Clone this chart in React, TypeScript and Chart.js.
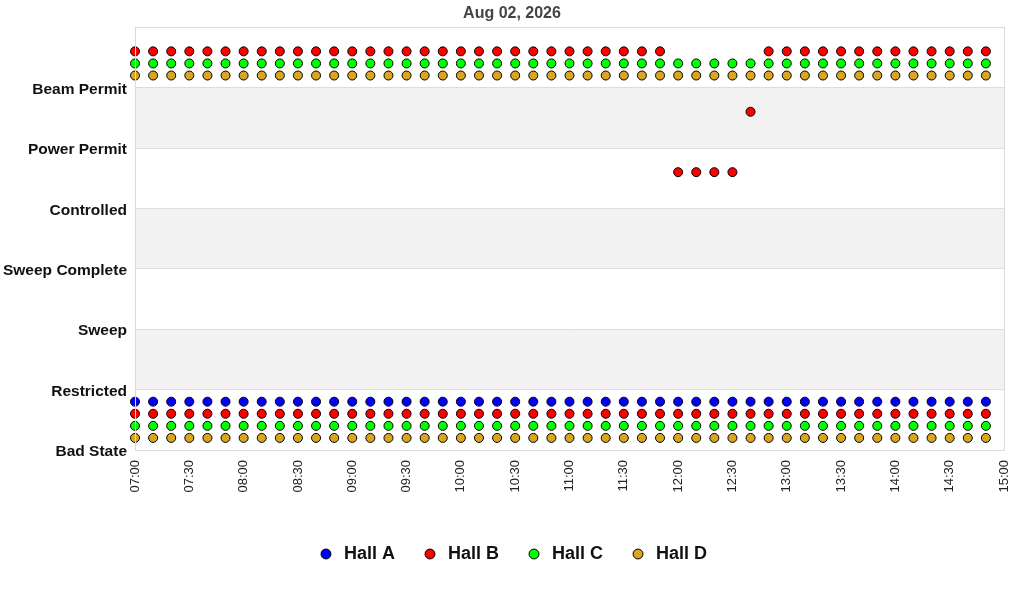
import React, { useEffect, useRef } from "react";
import { Chart, registerables } from "chart.js";

Chart.register(...registerables);

const chartTitle = "Aug 02, 2026";

const stateLabels = [
  "Bad State",
  "Restricted",
  "Sweep",
  "Sweep Complete",
  "Controlled",
  "Power Permit",
  "Beam Permit",
];

const xTickMin = "07:00";
const xTickMax = "15:00";
const xTickStepMinutes = 30;

const times = [
  "07:00", "07:10", "07:20", "07:30", "07:40", "07:50",
  "08:00", "08:10", "08:20", "08:30", "08:40", "08:50",
  "09:00", "09:10", "09:20", "09:30", "09:40", "09:50",
  "10:00", "10:10", "10:20", "10:30", "10:40", "10:50",
  "11:00", "11:10", "11:20", "11:30", "11:40", "11:50",
  "12:00", "12:10", "12:20", "12:30", "12:40", "12:50",
  "13:00", "13:10", "13:20", "13:30", "13:40", "13:50",
  "14:00", "14:10", "14:20", "14:30", "14:40", "14:50",
];

const hallNames = ["Hall A", "Hall B", "Hall C", "Hall D"];

// state code per time (index into stateLabels), null = no state point
const hallAState: (number | null)[] = [
  null, null, null, null, null, null,
  null, null, null, null, null, null,
  null, null, null, null, null, null,
  null, null, null, null, null, null,
  null, null, null, null, null, null,
  null, null, null, null, null, null,
  null, null, null, null, null, null,
  null, null, null, null, null, null,
];
const hallBState: (number | null)[] = [
  6, 6, 6, 6, 6, 6,
  6, 6, 6, 6, 6, 6,
  6, 6, 6, 6, 6, 6,
  6, 6, 6, 6, 6, 6,
  6, 6, 6, 6, 6, 6,
  4, 4, 4, 4, 5, 6,
  6, 6, 6, 6, 6, 6,
  6, 6, 6, 6, 6, 6,
];
const hallCState: (number | null)[] = [
  6, 6, 6, 6, 6, 6,
  6, 6, 6, 6, 6, 6,
  6, 6, 6, 6, 6, 6,
  6, 6, 6, 6, 6, 6,
  6, 6, 6, 6, 6, 6,
  6, 6, 6, 6, 6, 6,
  6, 6, 6, 6, 6, 6,
  6, 6, 6, 6, 6, 6,
];
const hallDState: (number | null)[] = [
  6, 6, 6, 6, 6, 6,
  6, 6, 6, 6, 6, 6,
  6, 6, 6, 6, 6, 6,
  6, 6, 6, 6, 6, 6,
  6, 6, 6, 6, 6, 6,
  6, 6, 6, 6, 6, 6,
  6, 6, 6, 6, 6, 6,
  6, 6, 6, 6, 6, 6,
];

// Bad State flag per time (1 = flagged)
const hallABadState = [
  1, 1, 1, 1, 1, 1, 1, 1, 1, 1, 1, 1, 1, 1, 1, 1, 1, 1, 1, 1, 1, 1, 1, 1,
  1, 1, 1, 1, 1, 1, 1, 1, 1, 1, 1, 1, 1, 1, 1, 1, 1, 1, 1, 1, 1, 1, 1, 1,
];
const hallBBadState = [
  1, 1, 1, 1, 1, 1, 1, 1, 1, 1, 1, 1, 1, 1, 1, 1, 1, 1, 1, 1, 1, 1, 1, 1,
  1, 1, 1, 1, 1, 1, 1, 1, 1, 1, 1, 1, 1, 1, 1, 1, 1, 1, 1, 1, 1, 1, 1, 1,
];
const hallCBadState = [
  1, 1, 1, 1, 1, 1, 1, 1, 1, 1, 1, 1, 1, 1, 1, 1, 1, 1, 1, 1, 1, 1, 1, 1,
  1, 1, 1, 1, 1, 1, 1, 1, 1, 1, 1, 1, 1, 1, 1, 1, 1, 1, 1, 1, 1, 1, 1, 1,
];
const hallDBadState = [
  1, 1, 1, 1, 1, 1, 1, 1, 1, 1, 1, 1, 1, 1, 1, 1, 1, 1, 1, 1, 1, 1, 1, 1,
  1, 1, 1, 1, 1, 1, 1, 1, 1, 1, 1, 1, 1, 1, 1, 1, 1, 1, 1, 1, 1, 1, 1, 1,
];

// styling (not data)
const hallColors = ["#0000FF", "#FF0000", "#00FF00", "#DAA520"];
const hallRowOffsets = [0.8, 0.6, 0.4, 0.2];
const FONT = "'Liberation Sans', Arial, Helvetica, sans-serif";

const toMinutes = (t: string) => {
  const [h, m] = t.split(":").map(Number);
  return h * 60 + m;
};
const fmtTime = (v: number) => {
  const h = Math.floor(v / 60);
  const m = Math.round(v % 60);
  return String(h).padStart(2, "0") + ":" + String(m).padStart(2, "0");
};

const bandsPlugin = {
  id: "bands",
  beforeDraw(chart: any) {
    const { ctx, chartArea, scales } = chart;
    const y = scales.y;
    ctx.save();
    ctx.fillStyle = "#F2F2F2";
    [1, 3, 5].forEach((v) => {
      const top = y.getPixelForValue(v + 1);
      const bottom = y.getPixelForValue(v);
      ctx.fillRect(chartArea.left, top, chartArea.right - chartArea.left, bottom - top);
    });
    ctx.restore();
  },
  afterDatasetsDraw(chart: any) {
    const { ctx, chartArea } = chart;
    ctx.save();
    ctx.strokeStyle = "#DADADA";
    ctx.lineWidth = 1;
    ctx.strokeRect(
      Math.round(chartArea.left) + 0.5,
      Math.round(chartArea.top) + 0.5,
      Math.round(chartArea.right - chartArea.left),
      Math.round(chartArea.bottom - chartArea.top)
    );
    ctx.restore();
  },
};

export default function App() {
  const ref = useRef<HTMLCanvasElement>(null);

  useEffect(() => {
    if (!ref.current) return;
    const states = [hallAState, hallBState, hallCState, hallDState];
    const bads = [hallABadState, hallBBadState, hallCBadState, hallDBadState];

    const datasets = hallNames.map((name, h) => {
      const pts: { x: number; y: number }[] = [];
      times.forEach((t, i) => {
        const s = states[h][i];
        if (s !== null && s !== undefined) {
          pts.push({ x: toMinutes(t), y: s + hallRowOffsets[h] });
        }
      });
      times.forEach((t, i) => {
        if (bads[h][i]) {
          pts.push({ x: toMinutes(t), y: 0 + hallRowOffsets[h] });
        }
      });
      return {
        label: name,
        data: pts,
        backgroundColor: hallColors[h],
        borderColor: "#000000",
        pointBackgroundColor: hallColors[h],
        pointBorderColor: "#000000",
        pointBorderWidth: 1,
        pointRadius: 4.5,
        pointStyle: "circle",
        showLine: false,
        clip: false,
      };
    });

    const chart = new Chart(ref.current, {
      type: "scatter",
      data: { datasets },
      plugins: [bandsPlugin],
      options: {
        responsive: false,
        animation: false,
        layout: { padding: { left: 0, right: 0, top: 0, bottom: 27 } },
        plugins: {
          title: {
            display: true,
            text: chartTitle,
            color: "#444444",
            font: { family: FONT, size: 16, weight: "bold" },
            padding: { top: 4, bottom: 4 },
          },
          legend: {
            display: true,
            position: "bottom",
            labels: {
              usePointStyle: true,
              boxWidth: 18,
              boxHeight: 7,
              padding: 26,
              color: "#111111",
              font: { family: FONT, size: 18, weight: "bold" },
            },
          },
          tooltip: { enabled: false },
        },
        scales: {
          x: {
            type: "linear",
            min: toMinutes(xTickMin),
            max: toMinutes(xTickMax),
            grid: { display: false, drawTicks: false },
            border: { display: false },
            ticks: {
              stepSize: xTickStepMinutes,
              autoSkip: false,
              minRotation: 90,
              maxRotation: 90,
              padding: 10,
              color: "#222222",
              font: { family: FONT, size: 13 },
              callback: (v: any) => fmtTime(Number(v)),
            },
            afterFit: (scale: any) => {
              scale.height = 69;
              scale.paddingLeft = 0;
              scale.paddingRight = 20;
            },
          },
          y: {
            type: "linear",
            min: 0,
            max: 7,
            grid: { color: "#DDDDDD", drawTicks: false },
            border: { display: false },
            ticks: {
              stepSize: 1,
              autoSkip: false,
              padding: 8,
              labelOffset: 2,
              color: "#111111",
              font: { family: FONT, size: 15.5, weight: "bold" },
              callback: (v: any) => stateLabels[Number(v)] ?? "",
            },
            afterFit: (scale: any) => {
              scale.width = 135;
            },
          },
        },
      },
    } as any);

    return () => chart.destroy();
  }, []);

  return (
    <div style={{ position: "absolute", left: 0, top: 0, width: 1024, height: 600, background: "#fff" }}>
      <canvas ref={ref} width={1024} height={600} />
    </div>
  );
}
